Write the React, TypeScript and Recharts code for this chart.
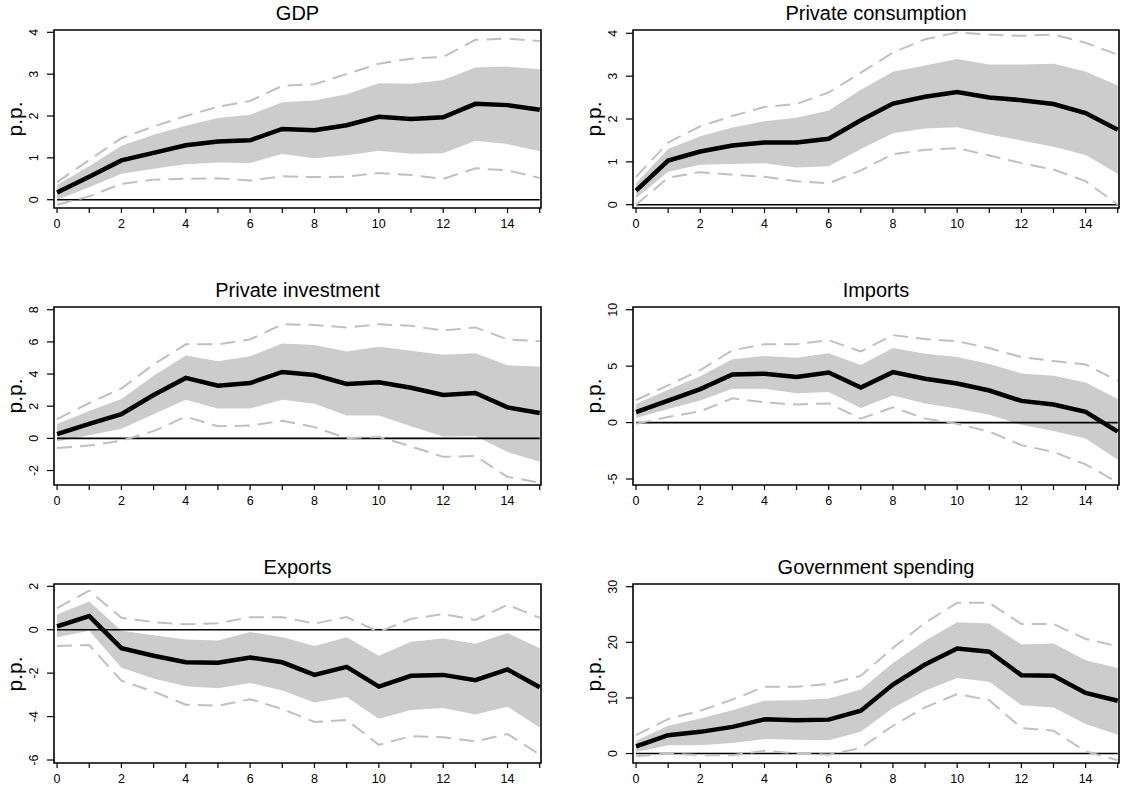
import React from "react";
import {
  ComposedChart,
  Area,
  Line,
  XAxis,
  YAxis,
  ReferenceArea,
} from "recharts";

const FONT = "'Liberation Sans', Arial, Helvetica, sans-serif";

// horizons (quarters after the shock)
const horizon = [0, 1, 2, 3, 4, 5, 6, 7, 8, 9, 10, 11, 12, 13, 14, 15];

// GDP
const gdpMean = [0.17, 0.55, 0.94, 1.12, 1.3, 1.39, 1.42, 1.69, 1.66, 1.78, 1.98, 1.93, 1.97, 2.29, 2.26, 2.15];
const gdpLo68 = [0.0, 0.3, 0.62, 0.74, 0.85, 0.89, 0.88, 1.09, 0.99, 1.06, 1.17, 1.1, 1.11, 1.41, 1.33, 1.16];
const gdpHi68 = [0.35, 0.8, 1.29, 1.55, 1.77, 1.95, 2.03, 2.33, 2.37, 2.52, 2.78, 2.77, 2.86, 3.16, 3.18, 3.12];
const gdpLo90 = [-0.12, 0.08, 0.38, 0.48, 0.5, 0.51, 0.46, 0.56, 0.54, 0.55, 0.64, 0.59, 0.5, 0.75, 0.7, 0.52];
const gdpHi90 = [0.42, 0.95, 1.47, 1.75, 2.0, 2.22, 2.36, 2.72, 2.76, 3.0, 3.25, 3.37, 3.41, 3.82, 3.85, 3.79];

// Private consumption
const conMean = [0.33, 1.03, 1.24, 1.38, 1.45, 1.45, 1.54, 1.97, 2.36, 2.52, 2.63, 2.5, 2.44, 2.35, 2.14, 1.75];
const conLo68 = [0.15, 0.77, 0.93, 0.95, 0.97, 0.87, 0.9, 1.3, 1.67, 1.78, 1.81, 1.64, 1.5, 1.35, 1.16, 0.72];
const conHi68 = [0.5, 1.3, 1.6, 1.8, 1.95, 2.03, 2.2, 2.68, 3.1, 3.25, 3.4, 3.27, 3.27, 3.29, 3.11, 2.78];
const conLo90 = [0.0, 0.63, 0.76, 0.7, 0.65, 0.55, 0.5, 0.8, 1.18, 1.28, 1.32, 1.15, 0.97, 0.82, 0.55, 0.0];
const conHi90 = [0.65, 1.45, 1.83, 2.07, 2.28, 2.35, 2.62, 3.08, 3.55, 3.86, 4.02, 3.97, 3.94, 3.97, 3.78, 3.5];

// Private investment
const invMean = [0.27, 0.9, 1.51, 2.7, 3.76, 3.28, 3.44, 4.13, 3.94, 3.38, 3.49, 3.15, 2.7, 2.82, 1.93, 1.58];
const invLo68 = [-0.2, 0.2, 0.6, 1.5, 2.4, 1.85, 1.85, 2.4, 2.15, 1.42, 1.42, 0.75, 0.12, 0.15, -0.85, -1.45];
const invHi68 = [0.9, 1.7, 2.45, 3.9, 5.15, 4.8, 5.1, 5.9, 5.8, 5.4, 5.7, 5.45, 5.2, 5.3, 4.55, 4.45];
const invLo90 = [-0.6, -0.45, -0.15, 0.45, 1.35, 0.75, 0.8, 1.1, 0.7, 0.0, 0.1, -0.5, -1.15, -1.1, -2.4, -2.75];
const invHi90 = [1.2, 2.2, 3.1, 4.6, 5.85, 5.85, 6.15, 7.1, 7.05, 6.9, 7.1, 7.0, 6.7, 6.9, 6.15, 6.05];

// Imports
const impMean = [0.92, 1.95, 2.96, 4.26, 4.32, 4.05, 4.44, 3.1, 4.47, 3.88, 3.46, 2.84, 1.92, 1.6, 0.95, -0.8];
const impLo68 = [0.4, 1.2, 1.95, 3.0, 3.0, 2.6, 2.7, 1.3, 2.4, 1.7, 1.25, 0.7, -0.2, -0.75, -1.4, -3.3];
const impHi68 = [1.65, 2.9, 4.1, 5.6, 5.9, 5.75, 6.15, 5.1, 6.6, 6.1, 5.8, 5.2, 4.35, 4.15, 3.55, 2.1];
const impLo90 = [-0.1, 0.5, 1.0, 2.15, 1.8, 1.6, 1.7, 0.35, 1.35, 0.35, -0.1, -0.8, -2.0, -2.6, -3.7, -5.3];
const impHi90 = [2.0, 3.3, 4.65, 6.4, 6.95, 6.95, 7.3, 6.3, 7.75, 7.4, 7.2, 6.6, 5.8, 5.45, 5.15, 3.7];

// Exports
const expMean = [0.15, 0.63, -0.85, -1.2, -1.5, -1.52, -1.28, -1.5, -2.08, -1.71, -2.62, -2.12, -2.08, -2.32, -1.83, -2.65];
const expLo68 = [-0.35, -0.05, -1.75, -2.25, -2.6, -2.7, -2.45, -2.8, -3.35, -3.1, -4.1, -3.7, -3.6, -3.9, -3.55, -4.5];
const expHi68 = [0.7, 1.3, -0.05, -0.25, -0.45, -0.5, -0.1, -0.35, -0.75, -0.35, -1.2, -0.55, -0.4, -0.65, -0.15, -0.85];
const expLo90 = [-0.75, -0.7, -2.35, -2.85, -3.45, -3.5, -3.2, -3.65, -4.25, -4.15, -5.3, -4.9, -4.95, -5.15, -4.8, -5.75];
const expHi90 = [1.0, 1.8, 0.55, 0.35, 0.25, 0.3, 0.58, 0.58, 0.28, 0.58, -0.1, 0.5, 0.72, 0.45, 1.15, 0.55];

// Government spending
const govMean = [1.27, 3.3, 3.9, 4.8, 6.15, 6.0, 6.1, 7.7, 12.4, 16.0, 18.9, 18.3, 14.1, 14.0, 10.9, 9.5];
const govLo68 = [0.3, 1.5, 1.5, 1.9, 2.6, 2.5, 2.4, 3.9, 8.2, 11.3, 13.6, 12.9, 8.7, 8.3, 5.3, 3.4];
const govHi68 = [2.3, 5.0, 6.3, 7.8, 9.5, 9.6, 9.9, 11.5, 16.3, 20.3, 23.6, 23.4, 19.6, 19.8, 16.8, 15.4];
const govLo90 = [-0.5, 0.0, -0.3, -0.3, 0.5, 0.0, -0.2, 1.0, 5.0, 8.3, 10.7, 9.6, 4.6, 4.1, 0.4, -1.2];
const govHi90 = [3.3, 6.2, 7.7, 9.7, 12.0, 12.0, 12.5, 14.0, 19.0, 23.5, 27.1, 27.1, 23.3, 23.3, 20.6, 19.3];

const buildRows = (mean: number[], lo68: number[], hi68: number[], lo90: number[], hi90: number[]) =>
  horizon.map((h, i) => ({
    h,
    zero: 0,
    mean: mean[i],
    band: [lo68[i], hi68[i]],
    lo90: lo90[i],
    hi90: hi90[i],
  }));

const X_DOMAIN: [number, number] = [-0.095, 15.04];

const panels = [
  { title: "GDP", data: buildRows(gdpMean, gdpLo68, gdpHi68, gdpLo90, gdpHi90), yDomain: [-0.198, 4.055], yTicks: [0, 1, 2, 3, 4], col: 0, row: 0 },
  { title: "Private consumption", data: buildRows(conMean, conLo68, conHi68, conLo90, conHi90), yDomain: [-0.077, 4.077], yTicks: [0, 1, 2, 3, 4], col: 1, row: 0 },
  { title: "Private investment", data: buildRows(invMean, invLo68, invHi68, invLo90, invHi90), yDomain: [-2.9, 8.17], yTicks: [-2, 0, 2, 4, 6, 8], col: 0, row: 1 },
  { title: "Imports", data: buildRows(impMean, impLo68, impHi68, impLo90, impHi90), yDomain: [-5.53, 10.24], yTicks: [-5, 0, 5, 10], col: 1, row: 1 },
  { title: "Exports", data: buildRows(expMean, expLo68, expHi68, expLo90, expHi90), yDomain: [-6.138, 2.106], yTicks: [-6, -4, -2, 0, 2], col: 0, row: 2 },
  { title: "Government spending", data: buildRows(govMean, govLo68, govHi68, govLo90, govHi90), yDomain: [-1.7, 30.49], yTicks: [0, 10, 20, 30], col: 1, row: 2 },
];

// layout of the 3x2 grid (pixels)
const colLayout = [
  { left: 0, width: 560, axisW: 54, right: 19 },
  { left: 560, width: 561, axisW: 73, right: 2 },
];
const rowLayout = [
  { top: 0, height: 262, marginTop: 30, plotH: 178 },
  { top: 262, height: 262, marginTop: 45, plotH: 178 },
  { top: 524, height: 263, marginTop: 60, plotH: 179 },
];

const XTick = (props: any) => {
  const { x, y, payload } = props;
  if (payload.value % 2 !== 0) return <g />;
  return (
    <text x={x} y={y} dy="0.71em" textAnchor="middle" fontSize={12.5} fontFamily={FONT} fill="#000">
      {payload.value}
    </text>
  );
};

const YTick = (props: any) => {
  const { x, y, payload } = props;
  return (
    <text
      x={x}
      y={y}
      transform={`rotate(-90 ${x} ${y})`}
      textAnchor="middle"
      dominantBaseline="central"
      fontSize={12.5}
      fontFamily={FONT}
      fill="#000"
    >
      {payload.value}
    </text>
  );
};

function Panel({ p }: { p: (typeof panels)[number] }) {
  const c = colLayout[p.col];
  const r = rowLayout[p.row];
  const boxLeft = c.left + c.axisW;
  const boxRight = c.left + c.width - c.right;
  const boxTop = r.top + r.marginTop;
  const boxMid = boxTop + r.plotH / 2;
  const xAxisH = r.height - r.marginTop - r.plotH;

  return (
    <>
      <div
        style={{
          position: "absolute",
          left: (boxLeft + boxRight) / 2,
          top: boxTop - 17,
          transform: "translate(-50%, -50%)",
          fontFamily: FONT,
          fontSize: 20,
          whiteSpace: "nowrap",
          lineHeight: 1,
        }}
      >
        {p.title}
      </div>
      <div
        style={{
          position: "absolute",
          left: boxLeft - 40,
          top: boxMid,
          transform: "translate(-50%, -50%) rotate(-90deg)",
          fontFamily: FONT,
          fontSize: 21,
          whiteSpace: "nowrap",
          lineHeight: 1,
        }}
      >
        p.p.
      </div>
      <div style={{ position: "absolute", left: c.left, top: r.top }}>
        <ComposedChart
          width={c.width}
          height={r.height}
          data={p.data}
          margin={{ top: r.marginTop, right: c.right, bottom: 0, left: 0 }}
        >
          <XAxis
            dataKey="h"
            type="number"
            domain={X_DOMAIN}
            ticks={horizon}
            interval={0}
            allowDataOverflow
            axisLine={false}
            tickLine={{ stroke: "#000", strokeWidth: 1.2 }}
            tickSize={5}
            tickMargin={6}
            tick={<XTick />}
            height={xAxisH}
          />
          <YAxis
            type="number"
            domain={p.yDomain}
            ticks={p.yTicks}
            interval={0}
            allowDataOverflow
            axisLine={false}
            tickLine={{ stroke: "#000", strokeWidth: 1.2 }}
            tickSize={7}
            tickMargin={13}
            tick={<YTick />}
            width={c.axisW}
          />
          <Line type="linear" dataKey="zero" stroke="#000" strokeWidth={1.6} dot={false} activeDot={false} isAnimationActive={false} />
          <Area
            type="linear"
            dataKey="band"
            fill="#cccccc"
            fillOpacity={1}
            stroke="none"
            isAnimationActive={false}
            activeDot={false}
          />
          <Line type="linear" dataKey="hi90" stroke="#c0c0c0" strokeWidth={2} strokeDasharray="15 8" dot={false} activeDot={false} isAnimationActive={false} />
          <Line type="linear" dataKey="lo90" stroke="#c0c0c0" strokeWidth={2} strokeDasharray="15 8" dot={false} activeDot={false} isAnimationActive={false} />
          <Line type="linear" dataKey="mean" stroke="#000" strokeWidth={4.5} dot={false} activeDot={false} isAnimationActive={false} />
          <ReferenceArea
            x1={X_DOMAIN[0]}
            x2={X_DOMAIN[1]}
            y1={p.yDomain[0]}
            y2={p.yDomain[1]}
            fill="none"
            fillOpacity={0}
            stroke="#000"
            strokeWidth={1.6}
            ifOverflow="visible"
          />
        </ComposedChart>
      </div>
    </>
  );
}

export default function App() {
  return (
    <div
      style={{
        position: "absolute",
        left: 0,
        top: 0,
        width: 1121,
        height: 787,
        background: "#fff",
        overflow: "hidden",
      }}
    >
      {panels.map((p) => (
        <Panel key={p.title} p={p} />
      ))}
    </div>
  );
}
